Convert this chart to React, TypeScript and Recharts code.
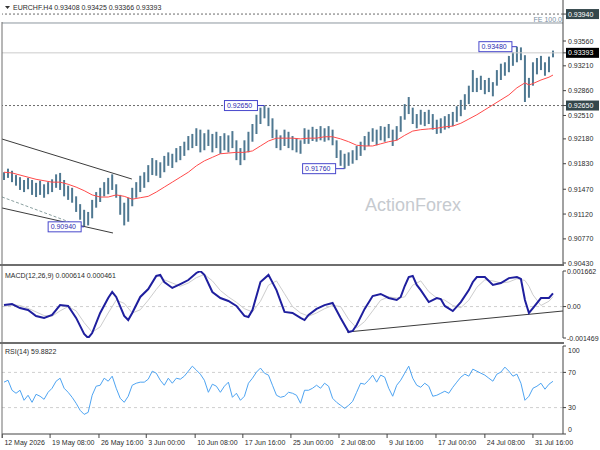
import React from 'react';
import { ComposedChart, Bar, Line, XAxis, YAxis, ReferenceLine, ReferenceDot } from 'recharts';

const FONT = "'Liberation Sans', Arial, sans-serif";
const TXT = '#2b2b2b';

// ---- price bars (H4, grouped) ----
const highs = [
  0.9171, 0.9176, 0.9173, 0.9167, 0.9164, 0.9160, 0.9163, 0.9160, 0.9156, 0.9159,
  0.9154, 0.9157, 0.9161, 0.9168, 0.9170, 0.9160, 0.9152, 0.9149, 0.9137, 0.9126,
  0.9118, 0.9115, 0.9132, 0.9143, 0.9149, 0.9157, 0.9163, 0.9168, 0.9154, 0.9139,
  0.9128, 0.9135, 0.9149, 0.9157, 0.9166, 0.9171, 0.9181, 0.9191, 0.9188, 0.9185,
  0.9194, 0.9199, 0.9197, 0.9205, 0.9208, 0.9214, 0.9222, 0.9225, 0.9233, 0.9231,
  0.9226, 0.9231, 0.9225, 0.9228, 0.9222, 0.9226, 0.9223, 0.9229, 0.9216, 0.9205,
  0.9216, 0.9228, 0.9239, 0.9252, 0.9262, 0.9265, 0.9262, 0.9247, 0.9231, 0.9223,
  0.9231, 0.9228, 0.9222, 0.9219, 0.9216, 0.9233, 0.9231, 0.9235, 0.9232, 0.9236,
  0.9233, 0.9236, 0.9231, 0.9216, 0.9202, 0.9197, 0.9199, 0.9202, 0.9208, 0.9214,
  0.9222, 0.9228, 0.9233, 0.9231, 0.9236, 0.9235, 0.9239, 0.9231, 0.9236, 0.9250,
  0.9267, 0.9277, 0.9262, 0.9253, 0.9259, 0.9256, 0.9259, 0.9253, 0.9245, 0.9247,
  0.9250, 0.9253, 0.9256, 0.9264, 0.9273, 0.9281, 0.9293, 0.9315, 0.9304, 0.9307,
  0.9301, 0.9304, 0.9298, 0.9315, 0.9324, 0.9326, 0.9335, 0.9340, 0.9348, 0.9347,
  0.9336, 0.9304, 0.9326, 0.9332, 0.9335, 0.9326, 0.9334, 0.93425,
];
const lows = [
  0.9160, 0.9163, 0.9157, 0.9152, 0.9146, 0.9143, 0.9147, 0.9139, 0.9136, 0.9139,
  0.9135, 0.9140, 0.9143, 0.9149, 0.9146, 0.9137, 0.9132, 0.9128, 0.9115, 0.9104,
  0.9094, 0.9096, 0.9106, 0.9121, 0.9129, 0.9137, 0.9140, 0.9146, 0.9135, 0.9111,
  0.9096, 0.9101, 0.9123, 0.9135, 0.9143, 0.9149, 0.9157, 0.9167, 0.9166, 0.9163,
  0.9171, 0.9180, 0.9177, 0.9185, 0.9188, 0.9194, 0.9202, 0.9205, 0.9208, 0.9199,
  0.9202, 0.9208, 0.9199, 0.9205, 0.9197, 0.9202, 0.9199, 0.9205, 0.9188, 0.9181,
  0.9188, 0.9199, 0.9214, 0.9225, 0.9239, 0.9247, 0.9236, 0.9219, 0.9205, 0.9202,
  0.9208, 0.9205, 0.9202, 0.9199, 0.9197, 0.9211, 0.9211, 0.9215, 0.9214, 0.9216,
  0.9214, 0.9216, 0.9209, 0.9191, 0.9180, 0.9176, 0.9180, 0.9183, 0.9188, 0.9194,
  0.9202, 0.9208, 0.9214, 0.9209, 0.9216, 0.9214, 0.9219, 0.9208, 0.9216, 0.9228,
  0.9245, 0.9253, 0.9239, 0.9233, 0.9238, 0.9236, 0.9239, 0.9231, 0.9225, 0.9226,
  0.9231, 0.9233, 0.9236, 0.9242, 0.9250, 0.9259, 0.9267, 0.9284, 0.9284, 0.9287,
  0.9281, 0.9284, 0.9278, 0.9293, 0.9301, 0.9307, 0.9312, 0.9321, 0.9326, 0.9329,
  0.9270, 0.9276, 0.9293, 0.9309, 0.9315, 0.9307, 0.9312, 0.93330,
];

// moving average (bar index, value)
const maPoints: [number, number][] = [
  [0, 0.9171], [2, 0.9170], [4, 0.9167], [6, 0.9164], [8, 0.9161], [10, 0.9159], [12, 0.9157],
  [14, 0.9157], [16, 0.9154], [18, 0.9150], [20, 0.9145], [22, 0.9139], [24, 0.9136], [26, 0.9136],
  [28, 0.9139], [30, 0.9137], [32, 0.9133], [34, 0.9135], [36, 0.9137], [38, 0.9143], [40, 0.9150],
  [42, 0.9157], [44, 0.9164], [46, 0.9171], [48, 0.9180], [50, 0.9187], [52, 0.9192], [54, 0.9197],
  [56, 0.9198], [58, 0.9199], [60, 0.9199], [62, 0.9201], [64, 0.9208], [66, 0.9215], [68, 0.9219],
  [70, 0.9219], [72, 0.9219], [74, 0.9218], [76, 0.9219], [78, 0.9219], [80, 0.9221], [82, 0.9221],
  [84, 0.9218], [86, 0.9214], [88, 0.9209], [90, 0.9208], [92, 0.9208], [94, 0.9211], [96, 0.9214],
  [98, 0.9216], [100, 0.9223], [102, 0.9229], [104, 0.9231], [106, 0.9232], [108, 0.9233],
  [110, 0.9235], [112, 0.9236], [114, 0.9240], [116, 0.9246], [118, 0.9252], [120, 0.9259],
  [122, 0.9266], [124, 0.9273], [126, 0.9280], [128, 0.9290], [130, 0.9297], [131, 0.9294],
  [132, 0.9296], [134, 0.9301], [136, 0.9305], [137, 0.9308],
];

// MACD main line (bar index, value)
const macdPoints: [number, number][] = [
  [0, 0.00007], [2, 0.00012], [4, -0.00007], [6, -0.00016], [8, -0.00044], [10, -0.00053],
  [12, -0.00039], [14, 0.00007], [16, 0.00003], [18, -0.00053], [20, -0.00128], [21, -0.001469],
  [22, -0.00124], [24, -0.00030], [26, 0.00040], [27, 0.00068], [28, 0.00045], [30, -0.00044],
  [31, -0.00063], [32, -0.00030], [34, 0.00045], [36, 0.00082], [38, 0.00143], [39, 0.00148],
  [40, 0.00115], [42, 0.00087], [44, 0.00105], [46, 0.00124], [48, 0.00157], [49, 0.001662],
  [50, 0.00148], [52, 0.00068], [54, 0.00040], [56, 0.00026], [58, 0.00003], [60, -0.00044],
  [61, -0.00049], [62, -0.00016], [64, 0.00115], [66, 0.00148], [68, 0.00077], [70, -0.00025],
  [72, -0.00030], [74, -0.00053], [75, -0.00063], [76, -0.00039], [78, -0.00011], [80, 0.00007],
  [82, 0.00017], [84, -0.00053], [86, -0.00119], [87, -0.00114], [88, -0.00086], [90, -0.00011],
  [92, 0.00049], [94, 0.00059], [96, 0.00040], [98, 0.00031], [99, 0.00045], [100, 0.00096],
  [101, 0.00138], [102, 0.00143], [103, 0.00101], [104, 0.00077], [106, 0.00021], [108, 0.00040],
  [109, 0.00035], [110, 0.00003], [112, -0.00021], [114, 0.00021], [116, 0.00077], [117, 0.00115],
  [118, 0.00138], [120, 0.00138], [122, 0.00101], [124, 0.00110], [126, 0.00133], [128, 0.00138],
  [129, 0.00129], [130, 0.00031], [131, -0.00030], [132, -0.00007], [134, 0.00040], [136, 0.00040],
  [137, 0.000614],
];

// MACD signal line (bar index, value)
const signalPoints: [number, number][] = [
  [0, 0.0], [2, 0.00008], [4, 0.00005], [6, -0.00008], [8, -0.00025], [10, -0.00042], [12, -0.00045],
  [14, -0.00020], [16, 0.0], [18, -0.00020], [20, -0.00075], [22, -0.00120], [24, -0.00095],
  [26, -0.00030], [28, 0.00030], [30, 0.00015], [32, -0.00030], [34, -0.00015], [36, 0.00030],
  [38, 0.00080], [40, 0.00125], [42, 0.00110], [44, 0.00095], [46, 0.00110], [48, 0.00135],
  [50, 0.00150], [52, 0.00120], [54, 0.00075], [56, 0.00045], [58, 0.00020], [60, -0.00010],
  [62, -0.00025], [64, 0.00025], [66, 0.00100], [68, 0.00120], [70, 0.00060], [72, 0.0],
  [74, -0.00030], [76, -0.00045], [78, -0.00030], [80, -0.00010], [82, 0.00005], [84, 0.0],
  [86, -0.00060], [88, -0.00100], [90, -0.00070], [92, -0.00020], [94, 0.00030], [96, 0.00045],
  [98, 0.00040], [100, 0.00045], [102, 0.00100], [104, 0.00120], [106, 0.00070], [108, 0.00040],
  [110, 0.00030], [112, 0.00005], [114, -0.00005], [116, 0.00030], [118, 0.00090], [120, 0.00125],
  [122, 0.00120], [124, 0.00110], [126, 0.00115], [128, 0.00130], [130, 0.00122], [131, 0.00095],
  [132, 0.00055], [134, 0.00005], [136, 0.00025], [137, 0.000461],
];

// RSI(14), one value per bar
const rsiValues = [
  58.9, 61.1, 49.7, 46.3, 49.7, 38.3, 44.0, 36.0, 45.1, 42.9,
  39.4, 47.4, 52.0, 60.0, 63.4, 52.0, 47.4, 41.7, 34.9, 26.9,
  22.3, 24.6, 44.0, 54.3, 55.4, 63.4, 60.0, 65.7, 52.0, 40.6,
  36.0, 42.9, 55.4, 57.7, 58.9, 58.9, 62.3, 71.4, 69.1, 61.1,
  55.4, 63.4, 57.7, 63.4, 62.3, 65.7, 71.4, 77.1, 72.6, 68.0,
  61.1, 47.4, 56.6, 54.3, 47.4, 54.3, 58.9, 41.7, 46.3, 38.3,
  42.9, 57.7, 63.4, 70.3, 74.9, 69.1, 66.9, 55.4, 44.0, 41.7,
  42.9, 47.4, 46.3, 44.0, 34.9, 49.7, 49.7, 52.0, 55.4, 52.0,
  57.7, 54.3, 40.6, 36.0, 32.6, 29.1, 32.6, 37.1, 47.4, 57.7,
  56.6, 61.1, 66.9, 58.9, 66.9, 64.6, 52.0, 42.9, 55.4, 61.1,
  69.1, 77.1, 63.4, 55.4, 53.1, 57.7, 54.3, 42.9, 44.0, 46.3,
  48.6, 46.3, 53.1, 58.9, 64.6, 68.0, 65.7, 73.7, 71.4, 69.1,
  66.9, 63.4, 60.0, 68.0, 70.3, 76.0, 71.4, 65.7, 68.0, 57.7,
  38.3, 42.9, 52.0, 54.3, 57.7, 50.9, 56.6, 59.88,
];

// axes
const priceTicks = [0.9394, 0.9356, 0.93393, 0.9321, 0.9286, 0.9265, 0.9251, 0.9218, 0.9183, 0.9147, 0.9112, 0.9077, 0.9043];
const boxedPrice: Record<string, string> = { '0.93940': '#34474b', '0.93393': '#000000', '0.92650': '#34474b' };
const macdTicks = [0.001662, 0, -0.001469];
const rsiTicks = [100, 70, 30, 0];
const dateTickPos = [-0.4, 11.5, 23.7, 35.5, 47.7, 59.6, 71.6, 83.6, 95.6, 107.8, 120.0, 132.0];
const dateLabels = ['12 May 2026', '19 May 08:00', '26 May 16:00', '3 Jun 00:00', '10 Jun 08:00', '17 Jun 16:00',
  '25 Jun 00:00', '2 Jul 08:00', '9 Jul 16:00', '17 Jul 00:00', '24 Jul 08:00', '31 Jul 16:00'];

// annotations (bar index, price)
const swingLabels = [
  { i: 20, price: 0.9094, text: '0.90940' },
  { i: 65, price: 0.9265, text: '0.92650' },
  { i: 85, price: 0.9176, text: '0.91760' },
  { i: 128, price: 0.9348, text: '0.93480' },
];
const swingOffsets = [-36, -40, -42, -38];
const hLevels = { stop: 0.9394, fe: 0.93814, last: 0.93393, support: 0.9265 };
const channelUpper = [{ x: -0.5, y: 0.92178 }, { x: 31.9, y: 0.91614 }];
const channelLower = [{ x: -0.5, y: 0.91206 }, { x: 27.2, y: 0.90853 }];
const channelMid = [{ x: -0.5, y: 0.91361 }, { x: 19.0, y: 0.90952 }];
const macdTrend = [{ x: 85.6, y: -0.00119 }, { x: 139.5, y: -0.000207 }];

const X_DOMAIN: [number, number] = [-0.5, 139.5];

const priceData = highs.map((h, i) => ({ i, range: [lows[i], h] as [number, number], ma: null as number | null }));
maPoints.forEach(([i, v]) => { priceData[i].ma = v; });
const macdData = highs.map((_, i) => ({ i, macd: null as number | null, sig: null as number | null }));
macdPoints.forEach(([i, v]) => { macdData[i].macd = v; });
signalPoints.forEach(([i, v]) => { macdData[i].sig = v; });
const rsiData = rsiValues.map((v, i) => ({ i, rsi: v }));

const PriceTick = (props: any) => {
  const { x, y, payload } = props;
  const label = Number(payload.value).toFixed(5);
  const bg = boxedPrice[label];
  if (bg) {
    return (
      <g>
        <rect x={x - 2} y={y - 5} width={33} height={10} fill={bg} />
        <text x={x} y={y + 2.6} fontSize={7} fontFamily={FONT} fill="#ffffff">{label}</text>
      </g>
    );
  }
  return <text x={x} y={y + 2.6} fontSize={7} fontFamily={FONT} fill={TXT}>{label}</text>;
};

const MacdTick = (props: any) => {
  const { x, y, payload } = props;
  const v = payload.value;
  const label = v === 0 ? '0.00' : v.toFixed(6);
  return <text x={x - 1} y={y + 2.6} fontSize={7} fontFamily={FONT} fill={TXT}>{label}</text>;
};

const RsiTick = (props: any) => {
  const { x, y, payload } = props;
  const v = payload.value;
  const dy = v === 100 ? 4 : v === 0 ? -5 : 0;
  return <text x={x} y={y + 2.6 + dy} fontSize={7} fontFamily={FONT} fill={TXT}>{String(v)}</text>;
};

const DateTick = (props: any) => {
  const { x, y, payload } = props;
  const idx = dateTickPos.indexOf(payload.value);
  return <text x={x + 2} y={y + 6} fontSize={7} fontFamily={FONT} fill={TXT} textAnchor="start">{dateLabels[idx]}</text>;
};

const SwingBox = (props: any) => {
  const { cx, cy, text, dx } = props;
  if (cx == null || cy == null) return null;
  const bx = cx + dx;
  return (
    <g>
      <line x1={bx + 33} y1={cy} x2={cx} y2={cy} stroke="#3b3bc4" strokeWidth={1} />
      <rect x={bx} y={cy - 5} width={33} height={10} fill="#ffffff" stroke="#4848cc" strokeWidth={1} />
      <text x={bx + 2.5} y={cy + 2.6} fontSize={7} fontFamily={FONT} fill="#2c2cb0">{text}</text>
    </g>
  );
};

export default function App() {
  return (
    <div style={{ position: 'absolute', left: 0, top: 0, width: 600, height: 450, background: '#ffffff', overflow: 'hidden' }}>
      <div style={{ position: 'absolute', left: 0, top: 0 }}>
        <ComposedChart width={600} height={272} data={priceData} margin={{ top: 0, right: 0, bottom: 7, left: 2 }}>
          <XAxis type="number" dataKey="i" domain={X_DOMAIN} hide allowDataOverflow />
          <YAxis orientation="right" width={37} domain={[0.904018, 0.941381]} allowDataOverflow ticks={priceTicks}
            interval={0} tick={(p: any) => <PriceTick {...p} />} tickSize={3} tickMargin={2}
            axisLine={{ stroke: '#444' }} tickLine={{ stroke: '#444' }} />
          <ReferenceLine y={hLevels.stop} stroke="#6b6b6b" strokeDasharray="2 2" />
          <ReferenceLine y={hLevels.fe} stroke="#8c969e" />
          <ReferenceLine y={hLevels.last} stroke="#cccccc" />
          <ReferenceLine y={hLevels.support} stroke="#6b6b6b" strokeDasharray="2 2" />
          <ReferenceLine segment={channelUpper} stroke="#3c3c3c" strokeWidth={1} />
          <ReferenceLine segment={channelLower} stroke="#3c3c3c" strokeWidth={1} />
          <ReferenceLine segment={channelMid} stroke="#8aa0a0" strokeWidth={1} strokeDasharray="3 2" />
          <Bar dataKey="range" barSize={2} fill="#4f7891" isAnimationActive={false} />
          <Line dataKey="ma" stroke="#ff4a4a" strokeWidth={1} dot={false} connectNulls isAnimationActive={false} />
          {swingLabels.map((s, k) => (
            <ReferenceDot key={s.text} x={s.i} y={s.price} r={0}
              shape={(p: any) => <SwingBox {...p} text={s.text} dx={swingOffsets[k]} />} />
          ))}
        </ComposedChart>
      </div>

      <div style={{ position: 'absolute', left: 0, top: 265 }}>
        <ComposedChart width={600} height={78} data={macdData} margin={{ top: 6, right: 0, bottom: 5, left: 2 }}>
          <XAxis type="number" dataKey="i" domain={X_DOMAIN} hide allowDataOverflow />
          <YAxis orientation="right" width={37} domain={[-0.001469, 0.001662]} allowDataOverflow ticks={macdTicks}
            interval={0} tick={(p: any) => <MacdTick {...p} />} tickSize={3} tickMargin={2}
            axisLine={{ stroke: '#444' }} tickLine={{ stroke: '#444' }} />
          <ReferenceLine y={0} stroke="#cfcfcf" strokeDasharray="3 3" />
          <ReferenceLine segment={macdTrend} stroke="#3c3c3c" strokeWidth={1} />
          <Line dataKey="sig" stroke="#cdcdcd" strokeWidth={1} dot={false} connectNulls isAnimationActive={false} />
          <Line dataKey="macd" stroke="#1f1f9e" strokeWidth={2} dot={false} connectNulls isAnimationActive={false} />
        </ComposedChart>
      </div>

      <div style={{ position: 'absolute', left: 0, top: 343 }}>
        <ComposedChart width={600} height={107} data={rsiData} margin={{ top: 3, right: 0, bottom: 0, left: 2 }}>
          <XAxis type="number" dataKey="i" domain={X_DOMAIN} allowDataOverflow ticks={dateTickPos} interval={0}
            height={16} tickSize={4} tickMargin={1} tick={(p: any) => <DateTick {...p} />}
            axisLine={{ stroke: '#444' }} tickLine={{ stroke: '#444' }} />
          <YAxis orientation="right" width={37} domain={[0, 100]} allowDataOverflow ticks={rsiTicks}
            interval={0} tick={(p: any) => <RsiTick {...p} />} tickSize={3} tickMargin={2}
            axisLine={{ stroke: '#444' }} tickLine={{ stroke: '#444' }} />
          <ReferenceLine y={70} stroke="#cfcfcf" strokeDasharray="3 3" />
          <ReferenceLine y={30} stroke="#cfcfcf" strokeDasharray="3 3" />
          <Line dataKey="rsi" stroke="#4ea4f2" strokeWidth={1} dot={false} isAnimationActive={false} />
        </ComposedChart>
      </div>

      <svg width={600} height={450} style={{ position: 'absolute', left: 0, top: 0, pointerEvents: 'none' }}>
        <polygon points="5,6 10,6 7.5,9" fill="#333" />
        <text x={13} y={10} fontSize={7} fontFamily={FONT} fill={TXT}>EURCHF.H4  0.93408 0.93425 0.93366 0.93393</text>
        <text x={562} y={21.5} fontSize={7} fontFamily={FONT} fill="#7890a4" textAnchor="end">FE 100.0</text>
        <line x1={2} y1={22} x2={2} y2={438} stroke="#6e6e6e" strokeWidth={1} />
        <line x1={0} y1={265} x2={564} y2={265} stroke="#6e6e6e" strokeWidth={2} />
        <line x1={0} y1={343} x2={564} y2={343} stroke="#6e6e6e" strokeWidth={2} />
        <text x={5} y={278} fontSize={7} fontFamily={FONT} fill={TXT}>MACD(12,26,9) 0.000614 0.000461</text>
        <text x={5} y={354} fontSize={7} fontFamily={FONT} fill={TXT}>RSI(14) 59.8822</text>
        <text x={365} y={211} fontSize={18} fontFamily={FONT} fill="#c6cacf">ActionForex</text>
      </svg>
    </div>
  );
}
